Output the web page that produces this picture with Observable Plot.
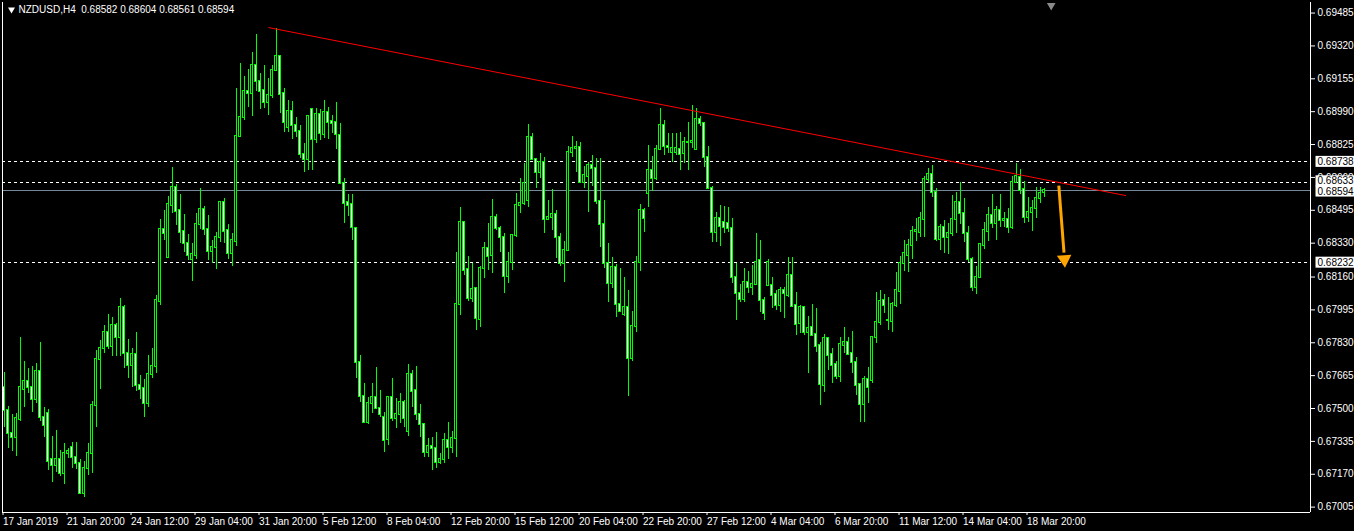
<!DOCTYPE html>
<html><head><meta charset="utf-8">
<script src="https://cdn.jsdelivr.net/npm/d3@7"></script>
<script src="https://cdn.jsdelivr.net/npm/@observablehq/plot@0.6"></script>
<style>
html,body{margin:0;padding:0;background:#000;overflow:hidden;}
#chart{width:1354px;height:531px;}
</style></head><body><div id="chart"></div>
<script>
const symbolName = "NZDUSD,H4";
const lastBar = [0.68582, 0.68604, 0.68561, 0.68594];
const timeLabels = ["17 Jan 2019","21 Jan 20:00","24 Jan 12:00","29 Jan 04:00","31 Jan 20:00","5 Feb 12:00","8 Feb 04:00","12 Feb 20:00","15 Feb 12:00","20 Feb 04:00","22 Feb 20:00","27 Feb 12:00","4 Mar 04:00","6 Mar 20:00","11 Mar 12:00","14 Mar 04:00","18 Mar 20:00"];
const labelEvery = 16;
const priceTicks = [0.69485,0.69320,0.69155,0.68990,0.68825,0.68660,0.68495,0.68330,0.68160,0.67995,0.67830,0.67665,0.67500,0.67335,0.67170,0.67005];
const levels = [0.68738, 0.68633, 0.68232];
const bid = 0.68594;
const trend = [{i: 66.2, p: 0.69412}, {i: 280.4, p: 0.68569}];
const arrowShaft = [{i1: 263.7, p1: 0.68619, i2: 265.0, p2: 0.68283}];
const arrowHead = [{i: 265.1, p: 0.68248}];
const shiftMark = [{i: 261.8}];

const open = [
0.67605,0.67490,0.67374,0.67354,0.67445,0.67595,0.67635,0.67605,0.67545,0.67686,
0.67455,0.67475,0.67244,0.67214,0.67244,0.67174,0.67274,0.67304,0.67254,0.67224,
0.67073,0.67199,0.67274,0.67515,0.67746,0.67801,0.67881,0.67811,0.67916,0.67856,
0.68007,0.67776,0.67716,0.67771,0.67615,0.67600,0.67525,0.67671,0.67711,0.68037,
0.68398,0.68258,0.68519,0.68609,0.68494,0.68388,0.68328,0.68248,0.68268,0.68424,
0.68499,0.68398,0.68288,0.68308,0.68358,0.68534,0.68393,0.68278,0.68338,0.68865,
0.68961,0.69091,0.69081,0.69222,0.69141,0.69096,0.69036,0.69071,0.69197,0.69267,
0.69081,0.68910,0.68991,0.68920,0.68890,0.68775,0.68750,0.69001,0.68850,0.68976,
0.68875,0.68986,0.68941,0.68936,0.68870,0.68629,0.68534,0.68524,0.68403,0.67731,
0.67560,0.67430,0.67525,0.67555,0.67500,0.67455,0.67344,0.67555,0.67450,0.67470,
0.67530,0.67384,0.67671,0.67590,0.67470,0.67420,0.67279,0.67309,0.67299,0.67229,
0.67244,0.67339,0.67304,0.67349,0.68022,0.68434,0.68198,0.68052,0.68102,0.67947,
0.68203,0.68303,0.68268,0.68459,0.68403,0.68358,0.68162,0.68233,0.68368,0.68519,
0.68529,0.68544,0.68860,0.68750,0.68685,0.68735,0.68449,0.68459,0.68474,0.68358,
0.68228,0.68293,0.68785,0.68805,0.68810,0.68634,0.68664,0.68720,0.68705,0.68539,
0.68424,0.68228,0.68127,0.68208,0.68022,0.67972,0.68007,0.67751,0.67911,0.68233,
0.68494,0.68579,0.68695,0.68654,0.68800,0.68920,0.68815,0.68785,0.68785,0.68800,
0.68780,0.68835,0.68835,0.68800,0.68951,0.68931,0.68760,0.68604,0.68383,0.68454,
0.68434,0.68429,0.68403,0.68157,0.68077,0.68047,0.68132,0.68107,0.68122,0.68243,
0.68042,0.68117,0.68117,0.68072,0.68017,0.68092,0.68067,0.68167,0.68017,0.67927,
0.68007,0.67881,0.67906,0.67871,0.67816,0.67615,0.67851,0.67771,0.67721,0.67660,
0.67816,0.67831,0.67776,0.67731,0.67620,0.67520,0.67645,0.67640,0.67856,0.67932,
0.68042,0.67942,0.67937,0.68017,0.68087,0.68228,0.68268,0.68318,0.68388,0.68383,
0.68449,0.68649,0.68675,0.68584,0.68348,0.68408,0.68358,0.68378,0.68449,0.68534,
0.68479,0.68378,0.68248,0.68107,0.68157,0.68318,0.68388,0.68469,0.68429,0.68494,
0.68444,0.68449,0.68408,0.68634,0.68659,0.68599,0.68459,0.68484,0.68504,0.68554,
0.68582];
const high = [
0.67681,0.67510,0.67470,0.67475,0.67856,0.67736,0.67701,0.67711,0.67726,0.67831,
0.67505,0.67495,0.67359,0.67389,0.67289,0.67324,0.67299,0.67329,0.67329,0.67244,
0.67234,0.67324,0.67535,0.67791,0.67841,0.67916,0.67972,0.67957,0.67927,0.68052,
0.68017,0.67846,0.67801,0.67881,0.67665,0.67645,0.67766,0.67801,0.68067,0.68449,
0.68494,0.68564,0.68710,0.68624,0.68574,0.68474,0.68373,0.68328,0.68479,0.68604,
0.68514,0.68469,0.68343,0.68383,0.68539,0.68554,0.68424,0.68378,0.69106,0.69232,
0.69166,0.69202,0.69287,0.69377,0.69182,0.69222,0.69156,0.69222,0.69407,0.69272,
0.69106,0.69046,0.69041,0.68961,0.68920,0.68830,0.68966,0.69006,0.69006,0.69001,
0.69046,0.69011,0.68971,0.69036,0.68931,0.68654,0.68574,0.68574,0.68408,0.67766,
0.67625,0.67555,0.67625,0.67706,0.67590,0.67480,0.67560,0.67650,0.67550,0.67575,
0.67540,0.67721,0.67691,0.67711,0.67520,0.67420,0.67349,0.67354,0.67379,0.67274,
0.67374,0.67430,0.67384,0.68283,0.68509,0.68439,0.68263,0.68228,0.68107,0.68213,
0.68333,0.68429,0.68549,0.68474,0.68413,0.68378,0.68283,0.68373,0.68579,0.68654,
0.68730,0.68926,0.68880,0.68750,0.68780,0.68760,0.68544,0.68599,0.68494,0.68378,
0.68338,0.68815,0.68865,0.68840,0.68835,0.68715,0.68735,0.68770,0.68755,0.68755,
0.68544,0.68328,0.68258,0.68223,0.68203,0.68157,0.68092,0.67987,0.68263,0.68524,
0.68504,0.68820,0.68765,0.68820,0.69006,0.68946,0.68880,0.68880,0.68880,0.68885,
0.68860,0.68936,0.69021,0.69006,0.68966,0.68931,0.68815,0.68614,0.68484,0.68519,
0.68514,0.68509,0.68454,0.68228,0.68122,0.68203,0.68188,0.68218,0.68378,0.68343,
0.68057,0.68248,0.68157,0.68092,0.68107,0.68107,0.68258,0.68258,0.68082,0.68017,
0.68007,0.67962,0.68022,0.68002,0.67831,0.67871,0.67851,0.67801,0.67736,0.67856,
0.67906,0.67856,0.67886,0.67756,0.67625,0.67660,0.67706,0.67861,0.68082,0.68092,
0.68072,0.68057,0.68032,0.68183,0.68263,0.68343,0.68348,0.68413,0.68454,0.68484,
0.68664,0.68705,0.68720,0.68604,0.68424,0.68444,0.68429,0.68569,0.68584,0.68634,
0.68554,0.68413,0.68258,0.68213,0.68328,0.68434,0.68509,0.68574,0.68514,0.68574,
0.68484,0.68504,0.68664,0.68730,0.68700,0.68639,0.68559,0.68544,0.68609,0.68609,
0.68604];
const low = [
0.67404,0.67299,0.67284,0.67259,0.67435,0.67505,0.67575,0.67480,0.67525,0.67435,
0.67354,0.67189,0.67128,0.67179,0.67158,0.67118,0.67249,0.67199,0.67194,0.67068,
0.67053,0.67163,0.67174,0.67404,0.67595,0.67776,0.67796,0.67761,0.67761,0.67761,
0.67701,0.67650,0.67605,0.67585,0.67545,0.67455,0.67505,0.67650,0.67676,0.68017,
0.68343,0.68258,0.68479,0.68418,0.68328,0.68283,0.68243,0.68137,0.68248,0.68398,
0.68368,0.68243,0.68228,0.68198,0.68333,0.68328,0.68248,0.68213,0.68313,0.68860,
0.68946,0.69011,0.68966,0.69091,0.69001,0.69006,0.68971,0.69056,0.69192,0.68981,
0.68885,0.68885,0.68850,0.68860,0.68755,0.68685,0.68695,0.68695,0.68830,0.68845,
0.68855,0.68850,0.68880,0.68800,0.68624,0.68429,0.68464,0.68343,0.67650,0.67530,
0.67425,0.67420,0.67475,0.67495,0.67455,0.67279,0.67314,0.67435,0.67399,0.67425,
0.67404,0.67359,0.67505,0.67440,0.67354,0.67254,0.67254,0.67189,0.67199,0.67219,
0.67224,0.67244,0.67274,0.67254,0.67967,0.68167,0.68037,0.68032,0.67891,0.67906,
0.68152,0.68193,0.68178,0.68393,0.68283,0.68077,0.68127,0.68193,0.68358,0.68479,
0.68519,0.68509,0.68745,0.68604,0.68654,0.68378,0.68444,0.68393,0.68253,0.68213,
0.68132,0.68288,0.68760,0.68685,0.68629,0.68604,0.68484,0.68614,0.68524,0.68308,
0.68203,0.68032,0.68102,0.67957,0.67982,0.67962,0.67560,0.67736,0.67881,0.68188,
0.68383,0.68509,0.68589,0.68644,0.68795,0.68770,0.68780,0.68735,0.68770,0.68695,
0.68730,0.68695,0.68805,0.68795,0.68915,0.68710,0.68604,0.68333,0.68333,0.68313,
0.68378,0.68383,0.68127,0.67942,0.68032,0.68032,0.68077,0.68067,0.68117,0.67982,
0.67942,0.68112,0.68002,0.67992,0.67982,0.67952,0.68057,0.68007,0.67866,0.67876,
0.67866,0.67676,0.67866,0.67781,0.67515,0.67580,0.67691,0.67625,0.67645,0.67630,
0.67776,0.67766,0.67676,0.67565,0.67430,0.67430,0.67525,0.67625,0.67826,0.67917,
0.67977,0.67891,0.67881,0.68007,0.68022,0.68188,0.68183,0.68248,0.68338,0.68358,
0.68358,0.68629,0.68559,0.68338,0.68293,0.68278,0.68273,0.68363,0.68378,0.68424,
0.68333,0.68233,0.68087,0.68072,0.68152,0.68298,0.68338,0.68403,0.68343,0.68408,
0.68408,0.68378,0.68398,0.68629,0.68574,0.68429,0.68434,0.68388,0.68454,0.68529,
0.68561];
const close = [
0.67490,0.67374,0.67354,0.67450,0.67605,0.67635,0.67605,0.67545,0.67686,0.67455,
0.67414,0.67234,0.67214,0.67244,0.67174,0.67274,0.67284,0.67254,0.67224,0.67073,
0.67199,0.67274,0.67515,0.67746,0.67801,0.67881,0.67811,0.67916,0.67856,0.68007,
0.67776,0.67716,0.67771,0.67615,0.67595,0.67525,0.67671,0.67711,0.68042,0.68398,
0.68378,0.68524,0.68609,0.68489,0.68383,0.68328,0.68268,0.68273,0.68424,0.68499,
0.68398,0.68288,0.68308,0.68358,0.68534,0.68388,0.68278,0.68343,0.68865,0.68961,
0.69091,0.69081,0.69222,0.69141,0.69091,0.69036,0.69071,0.69197,0.69267,0.69076,
0.68936,0.68991,0.68920,0.68890,0.68775,0.68750,0.68966,0.68850,0.68976,0.68880,
0.68986,0.68936,0.68931,0.68875,0.68629,0.68529,0.68519,0.68408,0.67731,0.67560,
0.67430,0.67525,0.67555,0.67500,0.67470,0.67339,0.67555,0.67450,0.67470,0.67530,
0.67450,0.67671,0.67585,0.67470,0.67420,0.67279,0.67309,0.67299,0.67229,0.67244,
0.67339,0.67304,0.67349,0.68022,0.68434,0.68193,0.68052,0.68097,0.67952,0.68203,
0.68303,0.68263,0.68459,0.68403,0.68358,0.68162,0.68233,0.68368,0.68519,0.68529,
0.68629,0.68860,0.68750,0.68685,0.68735,0.68449,0.68459,0.68474,0.68358,0.68228,
0.68293,0.68785,0.68805,0.68810,0.68634,0.68669,0.68720,0.68705,0.68539,0.68424,
0.68228,0.68127,0.68208,0.68022,0.67987,0.68007,0.67751,0.67911,0.68233,0.68494,
0.68454,0.68695,0.68654,0.68800,0.68920,0.68815,0.68810,0.68805,0.68805,0.68775,
0.68835,0.68835,0.68840,0.68951,0.68931,0.68760,0.68604,0.68383,0.68454,0.68413,
0.68408,0.68403,0.68157,0.68077,0.68047,0.68132,0.68107,0.68122,0.68233,0.68042,
0.67977,0.68233,0.68067,0.68017,0.68092,0.68077,0.68167,0.68012,0.67922,0.68007,
0.67881,0.67901,0.67866,0.67811,0.67620,0.67851,0.67766,0.67716,0.67660,0.67821,
0.67831,0.67771,0.67731,0.67615,0.67520,0.67645,0.67605,0.67856,0.67932,0.68037,
0.68017,0.67942,0.68022,0.68092,0.68228,0.68278,0.68318,0.68388,0.68393,0.68454,
0.68649,0.68675,0.68584,0.68348,0.68408,0.68358,0.68378,0.68449,0.68534,0.68479,
0.68378,0.68248,0.68107,0.68157,0.68323,0.68393,0.68469,0.68429,0.68494,0.68444,
0.68449,0.68408,0.68634,0.68664,0.68594,0.68459,0.68484,0.68504,0.68554,0.68579,
0.68594];

const bars = open.map((o, i) => ({i, open: o, high: high[i], low: low[i], close: close[i]}));

// layout
const W = 1354, H = 531;
const mL = 2, mR = 44, mT = 2, mB = 19;
const barPx = 4, firstPx = 3.5;
const px2i = p => (p - firstPx) / barPx;
const xDomain = [px2i(mL), px2i(W - mR)];
const yDomain = [0.66978, 0.69538];
const ppp = (yDomain[1] - yDomain[0]) / (H - mT - mB); // price per pixel
const boxLevels = [0.68738, 0.68633, 0.68594, 0.68232];
const boxNudgePx = [0, -1.5, 1, 0]; // stacked labels pushed apart, like the terminal does
const boxes = boxLevels.map((v, k) => ({v, yc: v - boxNudgePx[k] * ppp}));
const tickIdx = timeLabels.map((_, k) => k * labelEvery);
const green = "#00ff00";

const chart = Plot.plot({
  width: W, height: H,
  marginLeft: mL, marginRight: mR, marginTop: mT, marginBottom: mB,
  style: {background: "#000", color: "#fff", fontFamily: "Liberation Sans, Arial, sans-serif", fontSize: "10px", overflow: "visible"},
  x: {type: "linear", domain: xDomain, axis: null},
  y: {type: "linear", domain: yDomain, axis: null},
  marks: [
    Plot.ruleY(levels, {stroke: "#fff", strokeDasharray: "3,3", shapeRendering: "crispEdges"}),
    Plot.ruleY([bid], {stroke: "#778899", shapeRendering: "crispEdges"}),
    Plot.ruleX(bars, {x: "i", y1: "low", y2: "high", stroke: green, shapeRendering: "crispEdges"}),
    Plot.rect(bars, {x1: d => d.i - 0.25, x2: d => d.i + 0.25, y1: "open", y2: "close",
      insetTop: -0.5, insetBottom: -0.5,
      fill: d => d.close > d.open ? "#000" : "#fff", stroke: green, shapeRendering: "crispEdges"}),
    Plot.line(trend, {x: "i", y: "p", stroke: "#ff0000", strokeWidth: 1}),
    Plot.link(arrowShaft, {x1: "i1", y1: "p1", x2: "i2", y2: "p2", stroke: "#ffa500", strokeWidth: 3}),
    Plot.dot(arrowHead, {x: "i", y: "p", symbol: "triangle", rotate: 176, r: 5.4, fill: "#ffa500", stroke: "none"}),
    Plot.dot(shiftMark, {x: "i", frameAnchor: "top", dy: 3, symbol: "triangle", rotate: 180, r: 3.2, fill: "#8a8a8a", stroke: "none"}),
    Plot.ruleX([xDomain[0]], {stroke: "#fff", shapeRendering: "crispEdges"}),
    Plot.ruleX([xDomain[1]], {stroke: "#fff", shapeRendering: "crispEdges"}),
    Plot.ruleY([yDomain[0]], {stroke: "#fff", shapeRendering: "crispEdges"}),
    Plot.axisY(priceTicks, {anchor: "right", tickSize: 4, tickPadding: 3, tickFormat: d => d.toFixed(5), stroke: "#fff", fill: "#fff", fontSize: 10}),
    Plot.rect(boxes, {x1: px2i(W - mR + 5.5), x2: px2i(W), y1: d => d.yc - 5.5 * ppp, y2: d => d.yc + 5.5 * ppp, fill: "#fff"}),
    Plot.text(boxes, {x: xDomain[1], y: "yc", text: d => d.v.toFixed(5), dx: 7, textAnchor: "start", fill: "#000", fontSize: 10}),
    Plot.axisX(tickIdx, {anchor: "bottom", tickSize: 3, tickPadding: 2, tickFormat: (d, k) => timeLabels[k], textAnchor: "start", dx: -1, stroke: "#fff", fill: "#fff", fontSize: 10}),
    Plot.text([symbolName + "  " + lastBar.map(v => v.toFixed(5)).join(" ")], {frameAnchor: "top-left", dx: 16, dy: 3, textAnchor: "start", lineAnchor: "top", fill: "#fff", fontSize: 10}),
    Plot.dot([0], {frameAnchor: "top-left", dx: 9, dy: 7, symbol: "triangle", rotate: 180, r: 2.6, fill: "#fff", stroke: "none"})
  ]
});
document.getElementById("chart").appendChild(chart);
</script>
</body></html>
